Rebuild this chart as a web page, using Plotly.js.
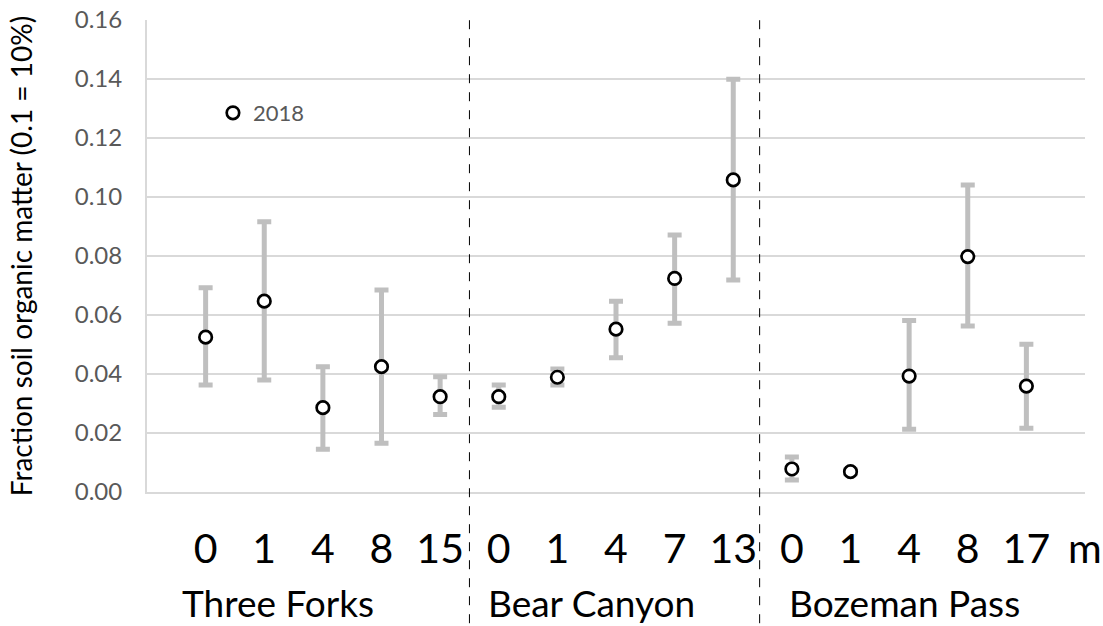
<!DOCTYPE html>
<html>
<head>
<meta charset="utf-8">
<script src="https://cdn.plot.ly/plotly-3.0.1.min.js"></script>
<style>html,body{margin:0;padding:0;background:#fff;}#chart{width:1103px;height:626px;}</style>
</head>
<body>
<div id="chart"></div>
<script>
// ---- data ----
const distanceLabels = ['0','1','4','8','15','0','1','4','7','13','0','1','4','8','17'];
const siteNames = ['Three Forks','Bear Canyon','Bozeman Pass'];
const somMean  = [0.0525,0.0647,0.0286,0.0425,0.0323, 0.0323,0.0389,0.0552,0.0724,0.1058, 0.0078,0.0069,0.0393,0.0798,0.0359];
const somUpper = [0.0692,0.0916,0.0425,0.0685,0.0391, 0.0363,0.0417,0.0647,0.0871,0.1399, 0.0119,0.0076,0.0581,0.1041,0.0501];
const somLower = [0.0363,0.0380,0.0145,0.0165,0.0263, 0.0287,0.0363,0.0455,0.0572,0.0719, 0.0041,0.0062,0.0213,0.0563,0.0216];
const seriesName = '2018';
const unitLabel = 'm';

// ---- layout constants ----
const FONT = 'Lato, Carlito, "Open Sans", sans-serif';
const xPos = distanceLabels.map((_, i) => i + 1);
const dividerX = [5.5, 10.45];
const siteLabelX = [0.56, 5.79, 10.92];

const trace = {
  type: 'scatter', mode: 'markers', name: seriesName,
  x: xPos, y: somMean,
  marker: {symbol: 'circle', size: 12.5, color: '#ffffff', line: {color: '#000000', width: 2.7}},
  error_y: {
    type: 'data', symmetric: false,
    array: somUpper.map((u, i) => u - somMean[i]),
    arrayminus: somMean.map((m, i) => m - somLower[i]),
    color: '#bfbfbf', thickness: 5, width: 7
  },
  showlegend: true
};

const shapes = dividerX.map(x => ({
  type: 'line', xref: 'x', yref: 'paper', x0: x, x1: x, y0: -0.278, y1: 1.01,
  line: {color: '#000000', width: 1, dash: 'dash'}, layer: 'above'
}));
shapes.push({
  type: 'rect', xref: 'paper', yref: 'paper', x0: 0.068, x1: 0.177, y0: 0.725, y1: 0.894,
  fillcolor: '#ffffff', line: {width: 0}, layer: 'between'
});

const annotations = siteNames.map((s, i) => ({
  text: s, xref: 'x', yref: 'paper', x: siteLabelX[i], y: -0.235,
  xanchor: 'left', yanchor: 'middle', showarrow: false,
  font: {family: FONT, size: 37, color: '#000000'}
}));
annotations.push({
  text: unitLabel, xref: 'paper', yref: 'paper', x: 1.0, y: -0.117,
  xanchor: 'center', yanchor: 'middle', showarrow: false,
  font: {family: FONT, size: 41, color: '#000000'}
});

const layout = {
  width: 1103, height: 626,
  margin: {l: 147, r: 18, t: 20, b: 134},
  paper_bgcolor: '#ffffff', plot_bgcolor: '#ffffff',
  font: {family: FONT},
  showlegend: true,
  legend: {x: 0.0703, y: 0.803, xanchor: 'left', yanchor: 'middle',
           bgcolor: 'rgba(0,0,0,0)', borderwidth: 0,
           font: {family: FONT, size: 22, color: '#595959'}},
  xaxis: {
    range: [0, 16], tickmode: 'array', tickvals: xPos, ticktext: distanceLabels,
    showgrid: false, zeroline: false, showline: true, linecolor: '#d9d9d9', linewidth: 2,
    ticks: '', ticklabelstandoff: 20,
    tickfont: {family: FONT, size: 41, color: '#000000'}, fixedrange: true
  },
  yaxis: {
    range: [0, 0.16], dtick: 0.02, tickformat: '.2f',
    showgrid: true, gridcolor: '#d9d9d9', gridwidth: 2,
    zeroline: false, showline: true, linecolor: '#d9d9d9', linewidth: 2,
    ticks: '', ticklabelstandoff: 18,
    tickfont: {family: FONT, size: 24, color: '#595959'},
    title: {text: 'Fraction soil organic matter (0.1 = 10%)', standoff: 34,
            font: {family: FONT, size: 28, color: '#000000'}},
    fixedrange: true
  },
  shapes: shapes,
  annotations: annotations
};

Plotly.newPlot('chart', [trace], layout, {displayModeBar: false, staticPlot: true});
</script>
</body>
</html>
